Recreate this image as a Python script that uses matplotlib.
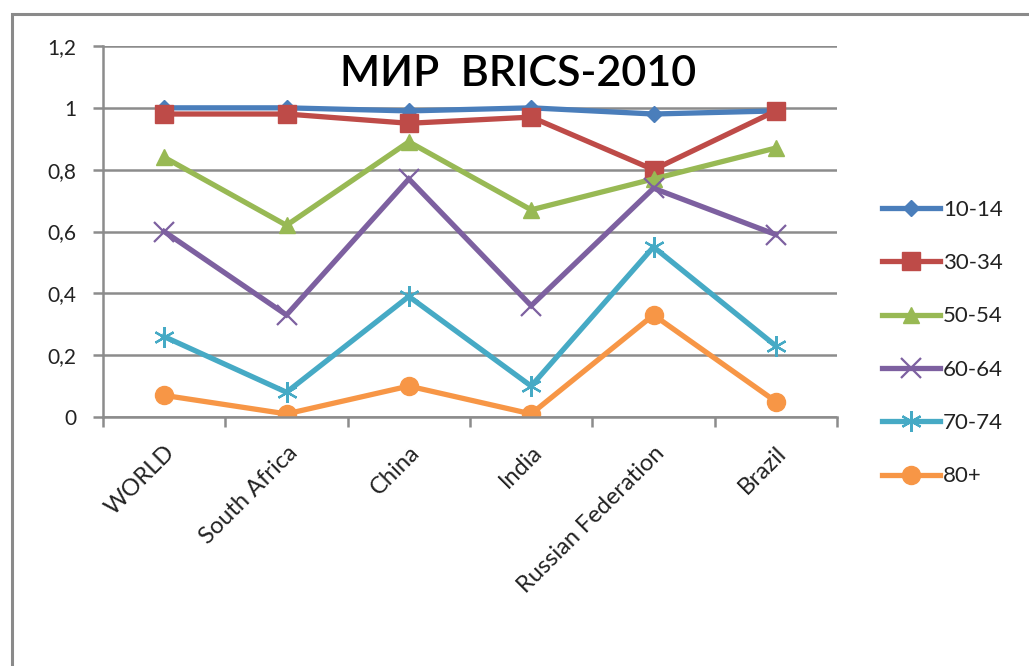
import matplotlib.pyplot as plt
from matplotlib.patches import Rectangle

# data: share by age group, 2010
countries = ["WORLD", "South Africa", "China", "India", "Russian Federation", "Brazil"]
age_groups = ["10-14", "30-34", "50-54", "60-64", "70-74", "80+"]

g10_14 = [1.00, 1.00, 0.99, 1.00, 0.98, 0.99]
g30_34 = [0.98, 0.98, 0.95, 0.97, 0.80, 0.99]
g50_54 = [0.84, 0.62, 0.89, 0.67, 0.77, 0.87]
g60_64 = [0.60, 0.33, 0.77, 0.36, 0.74, 0.59]
g70_74 = [0.26, 0.08, 0.39, 0.10, 0.55, 0.23]
g80 = [0.07, 0.01, 0.10, 0.01, 0.33, 0.05]

series = [g10_14, g30_34, g50_54, g60_64, g70_74, g80]
colors = ["#4A7EBB", "#BE4B48", "#98B954", "#7D60A0", "#46AAC5", "#F79646"]
markers = ["D", "s", "^", "x", (6, 2, 0), "o"]
msizes = [8, 13, 12, 14, 15, 13]

plt.rcParams["font.family"] = ["Lato", "DejaVu Sans"]

fig = plt.figure(figsize=(10.29, 6.66), dpi=100)
ax = fig.add_axes([103 / 1029, 1 - 417 / 666, (837 - 103) / 1029, (417 - 46) / 666])

x = list(range(len(countries)))
for vals, name, c, m, ms in zip(series, age_groups, colors, markers, msizes):
    thin = m in ("x", (6, 2, 0))
    ax.plot(x, vals, color=c, lw=3.8, marker=m, ms=ms,
            mew=1.6 if thin else 1, mec=c, mfc=c, label=name,
            solid_joinstyle="miter")

ax.set_xlim(-0.5, 5.5)
ax.set_ylim(0, 1.2)
ax.set_yticks([0, 0.2, 0.4, 0.6, 0.8, 1.0, 1.2])
ax.set_yticklabels(["0", "0,2", "0,4", "0,6", "0,8", "1", "1,2"])
ax.yaxis.grid(True, color="#8c8c8c", lw=1.8)
ax.set_axisbelow(True)

# ticks between categories, labels at the centres
ax.set_xticks([i - 0.5 for i in range(len(countries) + 1)])
ax.set_xticklabels([])
ax.set_xticks(x, minor=True)
ax.set_xticklabels(countries, minor=True, rotation=45, ha="right",
                   rotation_mode="anchor", fontsize=17, color="#222222")
ax.tick_params(axis="x", which="minor", length=0, pad=18)
ax.tick_params(axis="x", which="major", length=7, width=1.8, color="#8c8c8c")
ax.tick_params(axis="y", length=7, width=1.8, color="#8c8c8c", labelsize=15,
               pad=12, labelcolor="#222222")

for s in ["top", "right"]:
    ax.spines[s].set_visible(False)
for s in ["left", "bottom"]:
    ax.spines[s].set_color("#8c8c8c")
    ax.spines[s].set_linewidth(1.8)

ax.text(0.565, 0.925, "МИР  BRICS-2010", transform=ax.transAxes, ha="center",
        va="center", fontsize=31, fontweight="semibold", color="black")

leg = fig.legend(loc="center left", bbox_to_anchor=(871 / 1029, 1 - 343 / 666),
                 frameon=False, fontsize=16, handlelength=2.6, handletextpad=0.15,
                 labelspacing=1.5, borderpad=0)
for t in leg.get_texts():
    t.set_color("#222222")

# outer chart frame
fig.patches.append(Rectangle((12 / 1029, -0.1), 1.0, 1 - 14 / 666 + 0.1,
                             transform=fig.transFigure, fill=False,
                             edgecolor="#8a8a8a", lw=2.2))

fig.savefig("out.png", dpi=100)
